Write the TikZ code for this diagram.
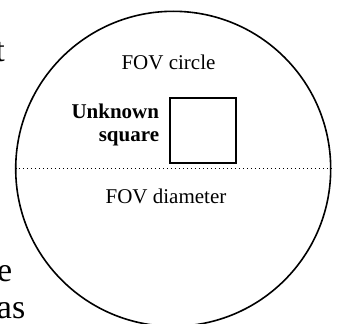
\documentclass[tikz,border=0pt]{standalone}
\usepackage{fontspec}
\setmainfont{Liberation Serif}
\begin{document}
\begin{tikzpicture}[x=1pt,y=-1pt,
  lbl/.style={inner sep=0pt,font=\fontsize{21}{23.5}\selectfont},
  body/.style={inner sep=0pt,font=\fontsize{34}{38}\selectfont},
  fovcircle/.style={circle,draw,line width=1.6pt,minimum size=315pt,inner sep=0pt},
  sqbox/.style={draw,line width=2pt,minimum width=66pt,minimum height=65pt,inner sep=0pt},
  diam/.style={line width=1.2pt,dash pattern=on 1.6pt off 2.4pt}]
\useasboundingbox (0,0) rectangle (341,324);
\clip (0,0) rectangle (341,324);
% body text fragments
\node[body,anchor=base east] (t1) at (5,61) {t};
\node[body,anchor=base east] (t2) at (12.5,281.5) {e};
\node[body,anchor=base east] (t3) at (25.5,318.5) {as};
% circle
\node[fovcircle] (fov) at (173.2,168.8) {};
\draw[diam] (fov.west) -- (fov.east);
% square
\node[sqbox] (sq) at (202.5,130.9) {};
% labels
\node[lbl,anchor=base] (lc) at (168.5,69.3) {FOV circle};
\node[lbl,anchor=base east,font=\fontsize{21}{23.5}\selectfont\bfseries] (u1) at (159.3,118.3) {Unknown};
\node[lbl,anchor=base east,font=\fontsize{21}{23.5}\selectfont\bfseries] (u2) at (159.3,141.7) {square};
\node[lbl,anchor=base] (ld) at (166,203.3) {FOV diameter};
\end{tikzpicture}
\end{document}
